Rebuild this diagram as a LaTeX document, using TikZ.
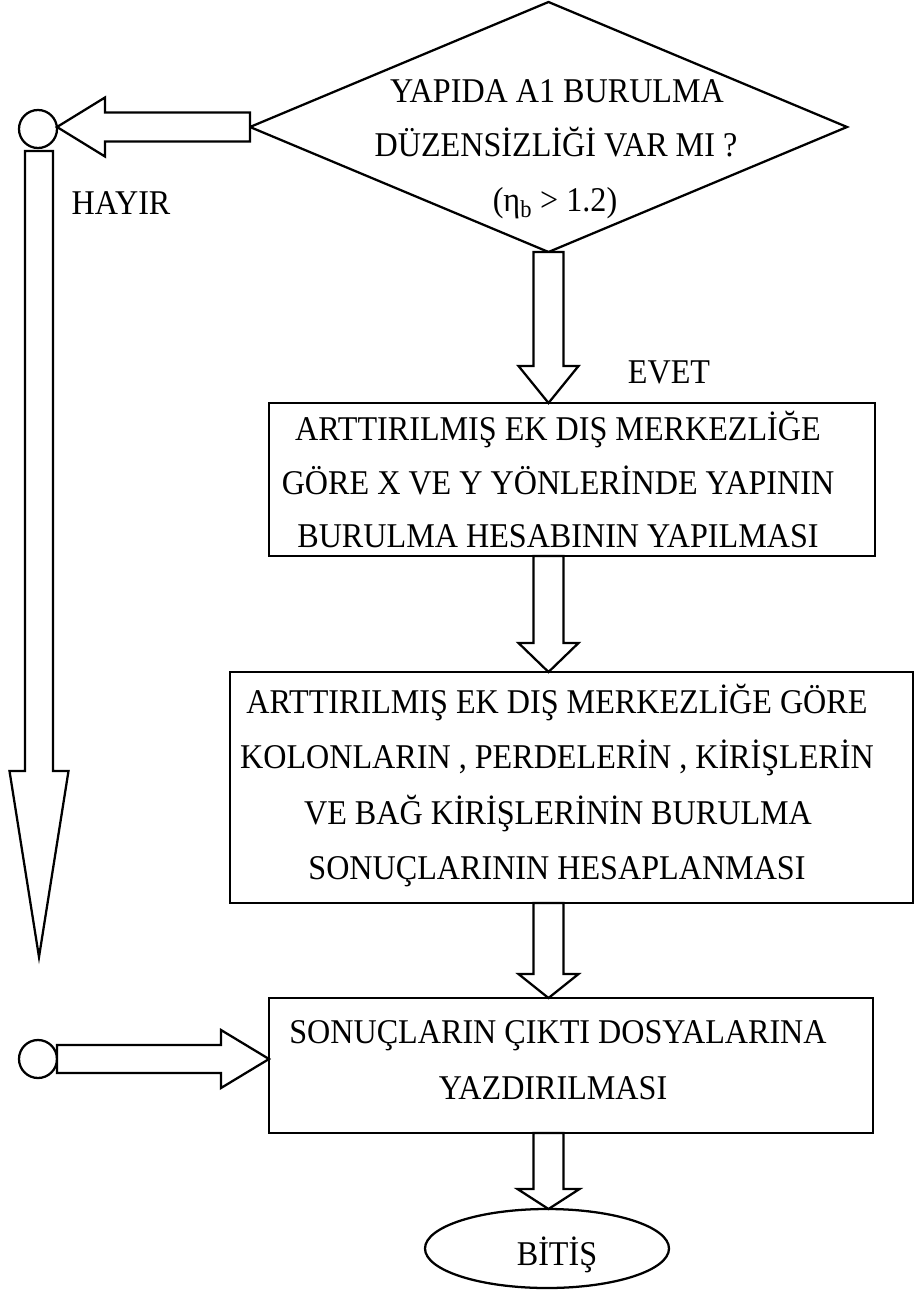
\documentclass[tikz,border=0pt]{standalone}
\usepackage{fontspec}
\usepackage{graphicx}
\setmainfont{Liberation Serif}
\usetikzlibrary{shapes.geometric,calc}

\tikzset{
  outline/.style={draw=black, line width=1.7pt, line join=miter, outer sep=0pt, inner sep=0pt},
  boxnode/.style={outline, rectangle},
  lbl/.style={anchor=base, inner sep=0pt, outer sep=0pt, font=\fontsize{24.1}{29}\selectfont},
  blk/.style={draw=black, line width=1.7pt, line join=miter, fill=white},
}
% slightly tall lettering
\newcommand\tall[1]{\scalebox{1}[1.08]{#1}}

% vertical block arrow: from, tip, head length, shaft half width, head half width
\newcommand\vblock[5]{%
  \draw[blk] ($(#1)+(-#4,0)$) -- ($(#2)+(-#4,-#3)$) -- ($(#2)+(-#5,-#3)$) -- (#2)
    -- ($(#2)+(#5,-#3)$) -- ($(#2)+(#4,-#3)$) -- ($(#1)+(#4,0)$) -- cycle;}
% horizontal block arrow: from, tip, signed head length, shaft half width, head half width
\newcommand\hblock[5]{%
  \draw[blk] ($(#1)+(0,-#4)$) -- ($(#2)+(#3,-#4)$) -- ($(#2)+(#3,-#5)$) -- (#2)
    -- ($(#2)+(#3,#5)$) -- ($(#2)+(#3,#4)$) -- ($(#1)+(0,#4)$) -- cycle;}

\begin{document}
\begin{tikzpicture}[x=0.75pt, y=-0.75pt]
\useasboundingbox (0,0) rectangle (915,1291);

% shapes
\node[outline, diamond, minimum width=447.75pt, minimum height=187.5pt] (dia) at (548.5,127) {};
\node[outline, circle, minimum size=28.5pt] (c1) at (38,129) {};
\node[outline, circle, minimum size=28.5pt] (c2) at (38,1059) {};
\node[boxnode, minimum width=454.5pt, minimum height=114.75pt] (b1) at (572,479.5) {};
\node[boxnode, minimum width=512.25pt, minimum height=173.25pt] (b2) at (571.5,787.5) {};
\node[boxnode, minimum width=453pt, minimum height=101.25pt] (b3) at (571,1065.5) {};
\node[outline, ellipse, minimum width=183pt, minimum height=59.25pt] (end) at (547,1248.5) {};

% texts
\node[lbl] (q1) at (557,103) {\tall{YAPIDA A1 BURULMA}};
\node[lbl] (q2) at (556,157) {\tall{DÜZENSİZLİĞİ VAR MI ?}};
\node[lbl] (q3) at (555,212) {\tall{(η\textsubscript{b} > 1.2)}};
\node[lbl] (no) at (121,215) {\tall{HAYIR}};
\node[lbl] (yes) at (669,383) {\tall{EVET}};
\node[lbl] (s11) at (558,440) {\tall{ARTTIRILMIŞ EK DIŞ MERKEZLİĞE}};
\node[lbl] (s12) at (558,494) {\tall{GÖRE X VE Y YÖNLERİNDE YAPININ}};
\node[lbl] (s13) at (558,547) {\tall{BURULMA HESABININ YAPILMASI}};
\node[lbl] (s21) at (557,713) {\tall{ARTTIRILMIŞ EK DIŞ MERKEZLİĞE GÖRE}};
\node[lbl] (s22) at (557,768.5) {\tall{KOLONLARIN , PERDELERİN , KİRİŞLERİN}};
\node[lbl] (s23) at (558,824) {\tall{VE BAĞ KİRİŞLERİNİN BURULMA}};
\node[lbl] (s24) at (557,879.5) {\tall{SONUÇLARININ HESAPLANMASI}};
\node[lbl] (s31) at (558,1043) {\tall{SONUÇLARIN ÇIKTI DOSYALARINA}};
\node[lbl] (s32) at (553,1099) {\tall{YAZDIRILMASI}};
\node[lbl] (fin) at (557,1265) {\tall{BİTİŞ}};

% connector end points
\coordinate (noS) at (dia.west);
\coordinate (noE) at (dia.west -| c1.east);
\coordinate (dnS) at ($(c1.south)+(1,3)$);
\coordinate (dnE) at ($(c1.south)+(1,809)$);
\coordinate (inS) at (c2.east);
\coordinate (inE) at (c2.east -| b3.west);
\coordinate (a1S) at (dia.south);
\coordinate (a1E) at (dia.south |- b1.north);
\coordinate (a2S) at (dia.south |- b1.south);
\coordinate (a2E) at (dia.south |- b2.north);
\coordinate (a3S) at (dia.south |- b2.south);
\coordinate (a3E) at (dia.south |- b3.north);
\coordinate (a4S) at (dia.south |- b3.south);
\coordinate (a4E) at (dia.south |- end.north);

% block arrows
\hblock{noS}{noE}{48}{14.5}{29.5}
\vblock{dnS}{dnE}{186}{14}{29.5}
\hblock{inS}{inE}{-48}{14}{29}
\vblock{a1S}{a1E}{37}{15}{30}
\vblock{a2S}{a2E}{29}{15}{30}
\vblock{a3S}{a3E}{24}{15}{30}
\vblock{a4S}{a4E}{20}{15}{31}
\end{tikzpicture}
\end{document}
